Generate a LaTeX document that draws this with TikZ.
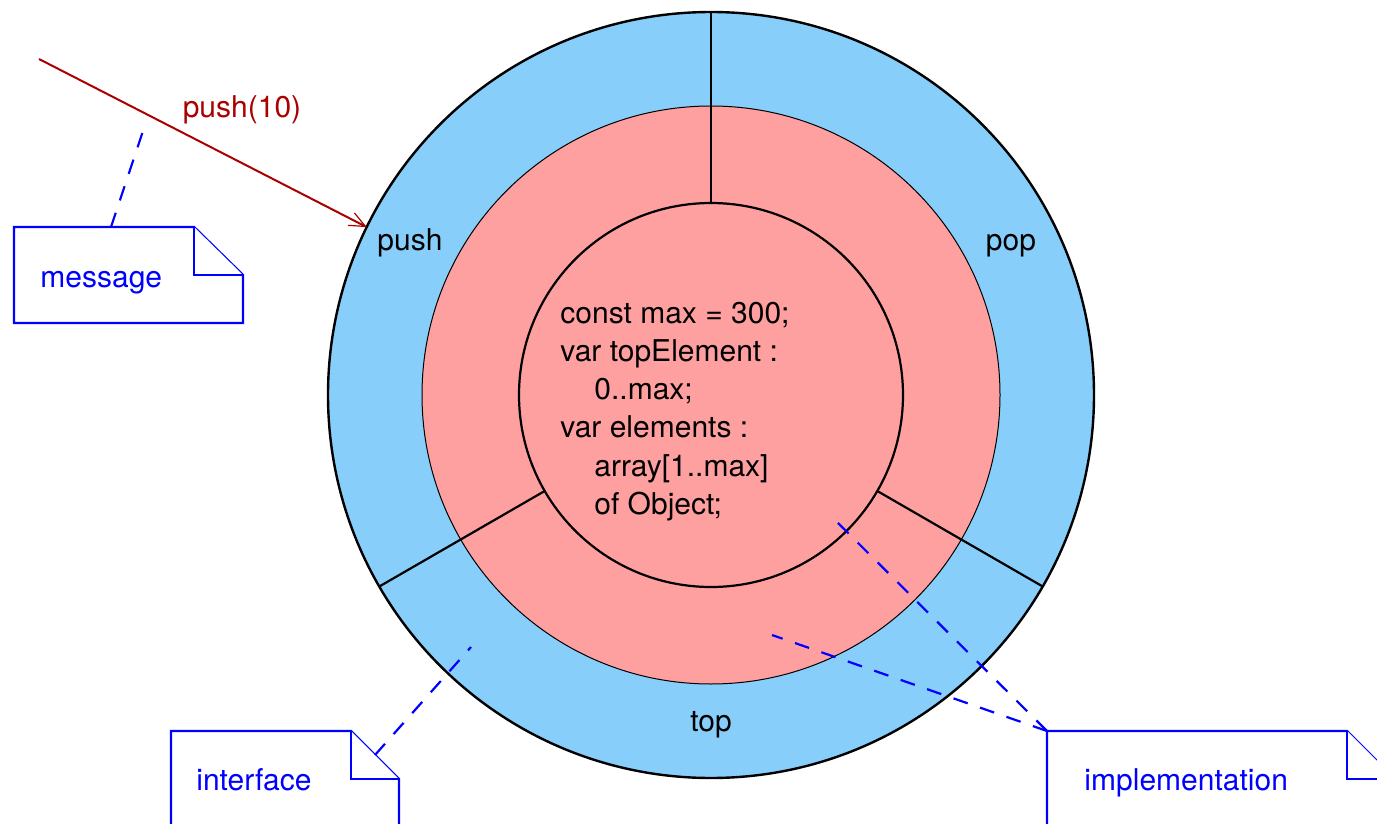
\documentclass[tikz,border=0pt]{standalone}
\usepackage{fontspec}
\setmainfont{TeX Gyre Heros}
\usetikzlibrary{arrows.meta}
\definecolor{ringblue}{RGB}{135,206,250}
\definecolor{ringpink}{RGB}{255,160,160}
\definecolor{msgred}{RGB}{170,0,0}
\definecolor{noteblue}{RGB}{0,0,255}
\tikzset{
  ring/.style={circle, inner sep=0pt, outer sep=0pt},
  divider/.style={draw=black, line width=1.1pt},
  lbl/.style={inner sep=0pt, font=\fontsize{15}{18}\selectfont, text=black},
  code/.style={inner sep=0pt, anchor=base west, font=\fontsize{15}{18}\selectfont, text=black},
  notebox/.style={draw=noteblue, line width=1.2pt, fill=white},
  notetext/.style={inner sep=0pt, anchor=base west, font=\fontsize{15}{18}\selectfont, text=noteblue},
  notelink/.style={draw=noteblue, line width=1.1pt, dash pattern=on 7.5pt off 6.5pt},
  msgarrow/.style={draw=msgred, line width=1pt, -{Straight Barb[length=8pt,width=7pt,line width=0.6pt]}},
}
\begin{document}
\begin{tikzpicture}[x=0.5pt, y=-0.5pt]
\useasboundingbox (0,0) rectangle (1377,824);
\clip (0,0) rectangle (1377,824);
% rings
\node[ring, fill=ringblue, draw=black, line width=1.2pt, minimum size=383pt] (outer) at (711,395) {};
\node[ring, fill=ringpink, draw=black, line width=0.5pt, minimum size=289pt] (middle) at (711,395) {};
\node[ring, draw=black, line width=1.1pt, minimum size=192pt] (inner) at (711,395) {};
\draw[divider] (inner.90) -- (outer.90);
\draw[divider] (inner.210) -- (outer.210);
\draw[divider] (inner.330) -- (outer.330);
% ring labels
\node[lbl, anchor=base] (pushlbl) at (410,250) {push};
\node[lbl, anchor=base] (poplbl) at (1011,250) {pop};
\node[lbl, anchor=base] (toplbl) at (711,731) {top};
% code
\node[code] (c1) at (560,323) {const max = 300;};
\node[code] (c2) at (560,361.3) {var topElement :};
\node[code] (c3) at (594,399.6) {0..max;};
\node[code] (c4) at (560,437.9) {var elements :};
\node[code] (c5) at (594,476.2) {array[1..max]};
\node[code] (c6) at (594,514.5) {of Object;};
% message arrow
\coordinate (msgsrc) at (39,59);
\draw[msgarrow] (msgsrc) -- (outer.154.5);
\node[lbl, anchor=base, text=msgred] (msglbl) at (242,118) {push(10)};
% note: message
\coordinate (m1) at (14,227);
\coordinate (m2) at (194,227);
\coordinate (m3) at (243,275);
\coordinate (m4) at (243,323);
\coordinate (m5) at (14,323);
\draw[notebox] (m1) -- (m2) -- (m3) -- (m4) -- (m5) -- cycle;
\draw[notebox] (m2) -- (194,275) -- (m3);
\node[notetext] (msgnote) at (40,287) {message};
\coordinate (msgtop) at (111,227);
\coordinate (msgtip) at (143,131);
\draw[notelink] (msgtop) -- (msgtip);
% note: interface
\coordinate (i1) at (171,731);
\coordinate (i2) at (351,731);
\coordinate (i3) at (399,779);
\coordinate (i4) at (399,840);
\coordinate (i5) at (171,840);
\draw[notebox] (i1) -- (i2) -- (i3) -- (i4) -- (i5) -- cycle;
\draw[notebox] (i2) -- (351,779) -- (i3);
\node[notetext] (ifnote) at (196,790) {interface};
\coordinate (iffold) at (375,755);
\coordinate (iftip) at (471,647);
\draw[notelink] (iffold) -- (iftip);
% note: implementation
\coordinate (p1) at (1047,731);
\coordinate (p2) at (1347,731);
\coordinate (p3) at (1395,779);
\coordinate (p4) at (1395,840);
\coordinate (p5) at (1047,840);
\draw[notebox] (p1) -- (p2) -- (p3) -- (p4) -- (p5) -- cycle;
\draw[notebox] (p2) -- (1347,779) -- (p3);
\node[notetext] (impnote) at (1084,790) {implementation};
\coordinate (imptipA) at (833,518);
\coordinate (imptipB) at (772,635);
\draw[notelink] (p1) -- (imptipA);
\draw[notelink] (p1) -- (imptipB);
\end{tikzpicture}
\end{document}
